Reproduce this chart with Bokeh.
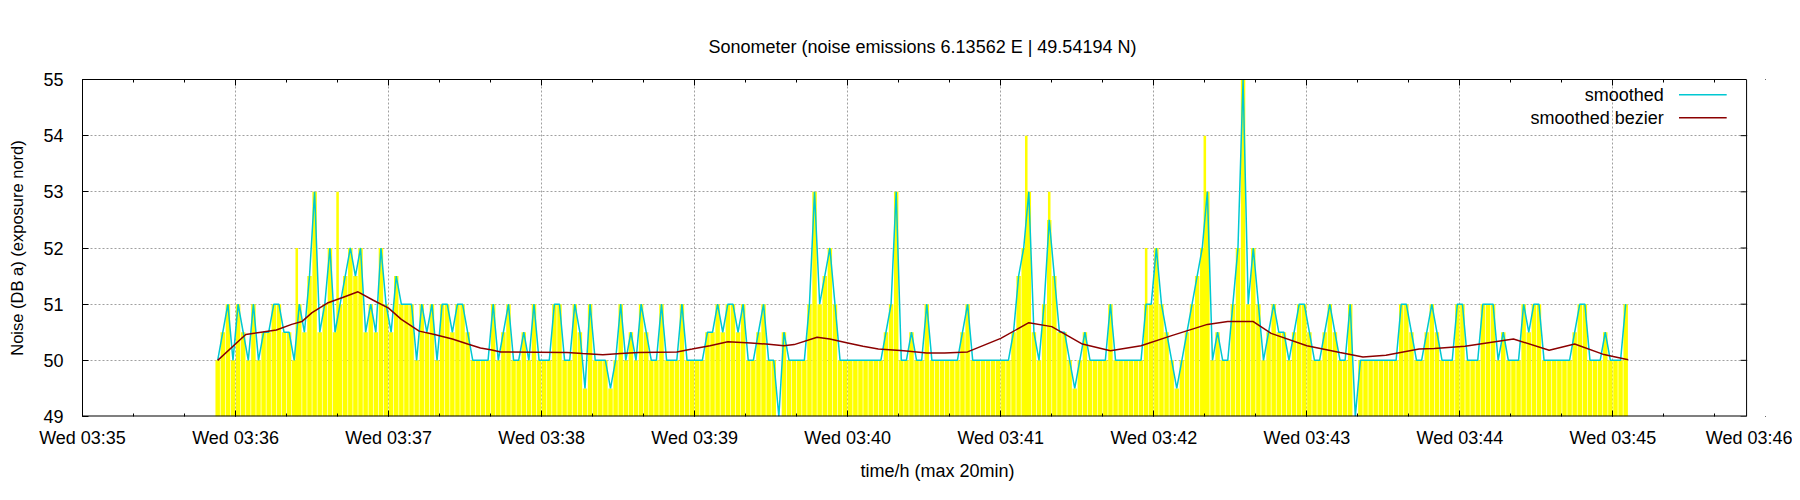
from datetime import datetime, timedelta
from bokeh.plotting import figure
from bokeh.models import (Range1d, DatetimeAxis, FixedTicker, BoxAnnotation, Span,
                          DatetimeTickFormatter, Label, ColumnDataSource,
                          CustomLabelingPolicy)
from bokeh.embed import file_html
from bokeh.resources import INLINE

FONT = "Liberation Sans"
FS = "18px"

# ---------------- data ----------------
# samples every 2 s starting at Wed 03:35:53
sample_start = datetime(2024, 1, 3, 3, 35, 53)
sample_step_s = 2
min_35 = [50, 50.5, 51, 50]
min_36 = [51, 50.5, 50, 51, 50, 50.5, 50.5, 51, 51, 50.5, 50.5, 50, 51, 50.5, 51.5,
          53, 50.5, 51, 52, 50.5, 51, 51.5, 52, 51.5, 52, 50.5, 51, 50.5, 52, 51]
min_37 = [50.5, 51.5, 51, 51, 51, 50, 51, 50.5, 51, 50, 51, 51, 50.5, 51, 51,
          50.5, 50, 50, 50, 50, 51, 50, 50.5, 51, 50, 50, 50.5, 50, 51, 50]
min_38 = [50, 50, 51, 51, 50, 50, 51, 50.5, 49.5, 51, 50, 50, 50, 49.5, 50,
          51, 50, 50.5, 50, 51, 50.5, 50, 50, 51, 50, 50, 50, 51, 50, 50]
min_39 = [50, 50, 50.5, 50.5, 51, 50.5, 51, 51, 50.5, 51, 50, 50, 50.5, 51, 50,
          50, 49, 50.5, 50, 50, 50, 50, 51, 53, 51, 51.5, 52, 51, 50, 50]
min_40 = [50, 50, 50, 50, 50, 50, 50, 50.5, 51, 53, 50, 50, 50.5, 50, 50,
          51, 50, 50, 50, 50, 50, 50, 50.5, 51, 50, 50, 50, 50, 50, 50]
min_41 = [50, 50, 50.5, 51.5, 52, 53, 50.5, 50, 51, 52.5, 51.5, 50.5, 50.5, 50, 49.5,
          50, 50.5, 50, 50, 50, 50, 51, 50, 50, 50, 50, 50, 50, 51, 51]
min_42 = [52, 51, 50.5, 50, 49.5, 50, 50.5, 51, 51.5, 52, 53, 50, 50.5, 50, 50,
          51, 52, 55, 51, 52, 51, 50, 50.5, 51, 50.5, 50.5, 50, 50.5, 51, 51]
min_43 = [50.5, 50, 50, 50.5, 51, 50.5, 50, 50, 51, 49, 50, 50, 50, 50, 50,
          50, 50, 50, 51, 51, 50.5, 50, 50, 50.5, 51, 50.5, 50, 50, 50, 51]
min_44 = [51, 50, 50, 50, 51, 51, 51, 50, 50.5, 50, 50, 50, 51, 50.5, 51,
          51, 50, 50, 50, 50, 50, 50, 50.5, 51, 51, 50, 50, 50, 50.5, 50]
min_45 = [50, 50, 51]

# single raw readings that stick out above the smoothed line (s after 03:36:00)
spike_s = [24, 40, 310, 319, 357, 380]
spike_db = [52, 53, 54, 53, 52, 54]

# smoothed bezier curve (s after 03:36:00, dB)
bezier_s = [-7, 4, 10, 16, 22, 26, 30, 36, 42, 48, 54, 60, 65, 72, 78, 85, 91, 96,
            100, 104, 130, 136, 144, 151, 158, 173, 179, 186, 193, 202, 208, 215,
            219, 228, 233, 240, 246, 252, 262, 271, 278, 287, 300, 311, 320, 332,
            343, 355, 367, 381, 389, 399, 406, 420, 433, 442, 451, 464, 470, 482,
            501, 515, 525, 536, 546]
bezier_db = [50.0, 50.46, 50.5, 50.54, 50.64, 50.69, 50.85, 51.02, 51.12, 51.22,
             51.07, 50.93, 50.73, 50.52, 50.46, 50.38, 50.29, 50.22, 50.19, 50.15,
             50.14, 50.12, 50.1, 50.12, 50.14, 50.15, 50.2, 50.26, 50.33, 50.31,
             50.29, 50.26, 50.28, 50.41, 50.38, 50.31, 50.25, 50.2, 50.17, 50.13,
             50.13, 50.15, 50.39, 50.67, 50.6, 50.29, 50.17, 50.26, 50.44, 50.64,
             50.69, 50.69, 50.48, 50.26, 50.14, 50.06, 50.09, 50.2, 50.21, 50.25,
             50.38, 50.18, 50.29, 50.11, 50.01]

y_ticks = [49, 50, 51, 52, 53, 54, 55]
key_labels = ["smoothed", "smoothed bezier"]

# ---------------- derived ----------------
level = (min_35 + min_36 + min_37 + min_38 + min_39 + min_40 + min_41 +
         min_42 + min_43 + min_44 + min_45)
times = [sample_start + timedelta(seconds=sample_step_s * i) for i in range(len(level))]
ref = datetime(2024, 1, 3, 3, 36, 0)
spike_t = [ref + timedelta(seconds=s) for s in spike_s]
bez_t = [ref + timedelta(seconds=s) for s in bezier_s]

epoch = datetime(1970, 1, 1)
def ms(d):
    return (d - epoch).total_seconds() * 1000

x0 = datetime(2024, 1, 3, 3, 35, 0)
x1 = x0 + timedelta(seconds=652.4)        # right edge of the plot box
xview = x0 + timedelta(seconds=670.4)     # canvas edge (so the 03:46 label can be drawn)

p = figure(width=1792, height=492, x_axis_type="datetime",
           x_range=Range1d(x0, xview), y_range=Range1d(49, 55),
           output_backend="svg", toolbar_location=None,
           min_border_left=82, min_border_right=0,
           min_border_top=79, min_border_bottom=76)

p.title.text = "Sonometer (noise emissions 6.13562 E | 49.54194 N)"
p.title.align = "left"
p.title.offset = 626
p.title.text_font = FONT
p.title.text_font_size = FS
p.title.text_font_style = "normal"
p.title.text_color = "black"
p.title.standoff = 16

p.outline_line_color = None
p.background_fill_color = "white"
p.border_fill_color = "white"

# ticks
major_v = [ms(x0 + timedelta(minutes=i)) for i in range(12)]
minor_v = [m + k * 20000 for m in major_v for k in range(3)]
xticker = FixedTicker(ticks=major_v, minor_ticks=minor_v)
yticker = FixedTicker(ticks=y_ticks, minor_ticks=[])

fmt = "%a %H:%M"
xfmt = DatetimeTickFormatter(seconds=fmt, minsec=fmt, minutes=fmt, hourmin=fmt, hours=fmt)

xa = p.xaxis[0]
xa.ticker = xticker
xa.formatter = xfmt
ya = p.yaxis[0]
ya.ticker = yticker

for ax in (xa, ya):
    ax.axis_line_color = "black"
    ax.major_tick_line_color = "black"
    ax.minor_tick_line_color = "black"
    ax.major_tick_in = 6
    ax.major_tick_out = 0
    ax.minor_tick_in = 3
    ax.minor_tick_out = 0
    ax.major_label_text_font = FONT
    ax.major_label_text_font_size = FS
    ax.major_label_text_color = "black"
    ax.axis_label_text_font = FONT
    ax.axis_label_text_font_size = FS
    ax.axis_label_text_font_style = "normal"
    ax.axis_label_text_color = "black"

xa.axis_line_color = None
xa.axis_label = "time/h (max 20min)"
xa.major_label_standoff = 11
xa.axis_label_standoff = 10
ya.axis_label = "Noise (DB a) (exposure nord)"
ya.axis_label_text_font_size = "16.5px"
ya.major_label_standoff = 19
ya.axis_label_standoff = 14

hide_labels = CustomLabelingPolicy(
    code="for (const i of [...indices]) { indices.unset(i) } return indices")
top_ax = DatetimeAxis(ticker=xticker, formatter=xfmt, major_label_policy=hide_labels,
                      bounds=(ms(x0), ms(x1)))
top_ax.axis_line_color = "black"
top_ax.major_tick_line_color = "black"
top_ax.minor_tick_line_color = "black"
top_ax.major_tick_in = 6
top_ax.major_tick_out = 0
top_ax.minor_tick_in = 3
top_ax.minor_tick_out = 0
top_ax.major_label_standoff = 0
p.add_layout(top_ax, "above")

for g in (p.xgrid[0], p.ygrid[0]):
    g.grid_line_color = "#a0a0a0"
    g.grid_line_dash = "2 2"
    g.grid_line_width = 1
p.xgrid[0].ticker = xticker
p.ygrid[0].ticker = yticker

# impulses
src = ColumnDataSource(dict(t=times, v=level))
p.vbar(x="t", top="v", bottom=49, width=1750, source=src,
       fill_color="#ffff00", line_color=None)
p.vbar(x=spike_t, top=spike_db, bottom=49, width=1000,
       fill_color="#ffff00", line_color=None)
# smoothed line
p.line(x="t", y="v", source=src, line_color="#00c8d2", line_width=1.5)
# bezier
p.line(x=bez_t, y=bezier_db, line_color="#8b0000", line_width=1.5)

# plot box: bottom edge, right-hand ticks, right edge; blank beyond the box
p.segment(x0=[x0], y0=[49], x1=[x1], y1=[49], line_color="black", line_width=2)
p.segment(x0=[x1 - timedelta(seconds=2.35)] * len(y_ticks), y0=y_ticks,
          x1=[x1] * len(y_ticks), y1=y_ticks, line_color="black", line_width=1)
p.add_layout(BoxAnnotation(left=ms(x1) + 300, fill_color="white", fill_alpha=1.0,
                           line_color=None, level="overlay"))
p.add_layout(Span(location=ms(x1), dimension="height", line_color="black",
                  line_width=1, level="overlay"))

# key (label left, sample right, gnuplot style)
key_colors = ["#00c8d2", "#8b0000"]
key_y = [54.73, 54.32]
for lab, col, yy in zip(key_labels, key_colors, key_y):
    p.add_layout(Label(x=x1 - timedelta(seconds=32.5), y=yy, text=lab,
                       text_align="right", text_baseline="middle",
                       text_font=FONT, text_font_size=FS, text_color="black"))
    p.line(x=[x1 - timedelta(seconds=26.5), x1 - timedelta(seconds=7.8)], y=[yy, yy],
           line_color=col, line_width=1.5)

open("out.html", "w").write(file_html(p, INLINE))
